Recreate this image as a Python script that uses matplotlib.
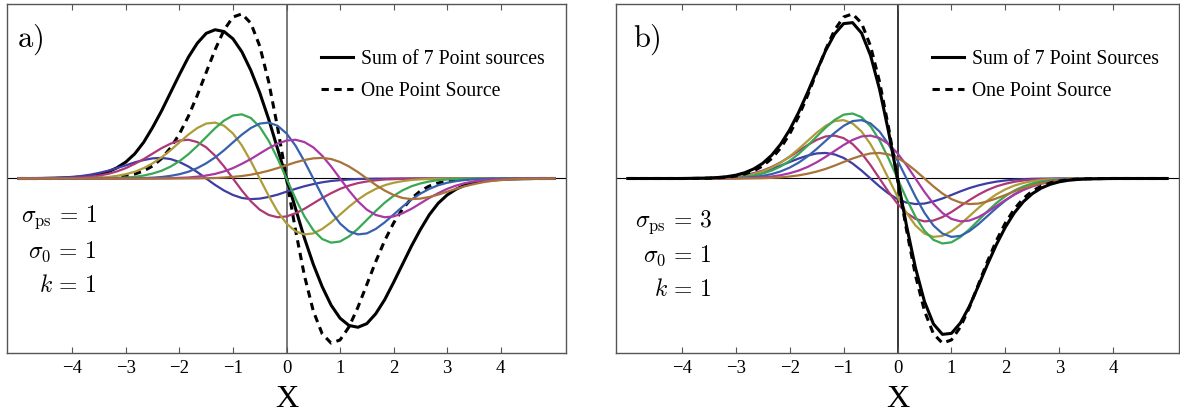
import numpy as np
import matplotlib.pyplot as plt
from matplotlib.lines import Line2D

plt.rcParams['mathtext.fontset'] = 'cm'
plt.rcParams['font.family'] = 'Liberation Serif'

# sample positions of every curve (step 1/6)
x = np.linspace(-5, 5, 61)

# ---- panel a : sigma_ps = 1 ----
sum_a = [0, 0, 0, .001, .002, .003, .005, .009, .015, .025, .040, .065, .100, .150, .220, .310, .410, .520, .630, .735,
         .820, .880, .902, .891, .847, .768, .656, .520, .360, .180,
         0,
         -.180, -.360, -.520, -.656, -.768, -.847, -.891, -.902, -.880, -.820, -.735, -.630, -.520, -.410, -.310, -.220,
         -.150, -.100, -.065, -.040, -.025, -.015, -.009, -.005, -.003, -.002, -.001, 0, 0, 0]
one_src = [0] * 8 + [.001, .002, .004, .008, .015, .027, .046, .076, .121, .185, .270, .377, .504, .643, .781, .900,
                     .979, .998, .942, .803, .587, .310,
                     0,
                     -.310, -.587, -.803, -.942, -.998, -.979, -.900, -.781, -.643, -.504, -.377, -.270, -.185,
                     -.121, -.076, -.046, -.027, -.015, -.008, -.004, -.002, -.001] + [0] * 8

dkblue_a = [0] * 1 + [.001, .001, .002, .003, .006, .010, .015, .023, .034, .047, .063, .080, .098, .112, .122, .125,
                      .118, .100, .073, .039, 0, -.039, -.073, -.100, -.118, -.125, -.122, -.112, -.098, -.080, -.063,
                      -.047, -.034, -.023, -.015, -.010, -.006, -.003, -.002, -.001, -.001] + [0] * 19
magenta_a = [0] * 4 + [.001, .002, .004, .006, .011, .018, .028, .043, .063, .089, .118, .151, .184, .211, .230, .235,
                       .221, .189, .138, .073, 0, -.073, -.138, -.189, -.221, -.235, -.230, -.211, -.184, -.151, -.118,
                       -.089, -.063, -.043, -.028, -.018, -.011, -.006, -.004, -.002, -.001] + [0] * 16
olive_a = [0] * 6 + [.001, .001, .003, .005, .009, .016, .026, .041, .063, .092, .128, .171, .219, .266, .306, .333,
                     .339, .320, .273, .200, .105, 0, -.105, -.200, -.273, -.320, -.339, -.333, -.306, -.266, -.219,
                     -.171, -.128, -.092, -.063, -.041, -.026, -.016, -.009, -.005, -.003, -.001, -.001] + [0] * 12
green_a = [0] * 9 + [.001, .002, .003, .006, .010, .018, .030, .047, .072, .105, .147, .197, .251, .305, .351, .382,
                     .389, .367, .313, .229, .121, 0, -.121, -.229, -.313, -.367, -.389, -.382, -.351, -.305, -.251,
                     -.197, -.147, -.105, -.072, -.047, -.030, -.018, -.010, -.006, -.003, -.002, -.001] + [0] * 9
blue_a = [0] * 12 + [.001, .001, .003, .005, .009, .016, .026, .041, .063, .092, .128, .171, .219, .266, .306, .333,
                     .339, .320, .273, .200, .105, 0, -.105, -.200, -.273, -.320, -.339, -.333, -.306, -.266, -.219,
                     -.171, -.128, -.092, -.063, -.041, -.026, -.016, -.009, -.005, -.003, -.001, -.001] + [0] * 6
purple_a = [0] * 16 + [.001, .002, .004, .006, .011, .018, .028, .043, .063, .089, .118, .151, .184, .211, .230, .235,
                       .221, .189, .138, .073, 0, -.073, -.138, -.189, -.221, -.235, -.230, -.211, -.184, -.151, -.118,
                       -.089, -.063, -.043, -.028, -.018, -.011, -.006, -.004, -.002, -.001] + [0] * 4
brown_a = [0] * 19 + [.001, .001, .002, .003, .006, .010, .015, .023, .034, .047, .063, .080, .098, .112, .122, .125,
                      .118, .100, .073, .039, 0, -.039, -.073, -.100, -.118, -.125, -.122, -.112, -.098, -.080, -.063,
                      -.047, -.034, -.023, -.015, -.010, -.006, -.003, -.002, -.001, -.001] + [0] * 1

# ---- panel b : sigma_ps = 3 ----
sum_b = [0] * 7 + [.001, .002, .003, .006, .011, .020, .035, .058, .092, .141, .208, .295, .401, .522, .651, .775,
                   .876, .939, .945, .882, .746, .542, .285,
                   0,
                   -.285, -.542, -.746, -.882, -.945, -.939, -.876, -.775, -.651, -.522, -.401, -.295, -.208, -.141,
                   -.092, -.058, -.035, -.020, -.011, -.006, -.003, -.002, -.001] + [0] * 7

dkblue_b = [0] * 7 + [.001, .001, .002, .004, .007, .012, .019, .029, .042, .058, .078, .100, .121, .139, .152, .155,
                      .146, .125, .091, .048, 0, -.048, -.091, -.125, -.146, -.155, -.152, -.139, -.121, -.100, -.078,
                      -.058, -.042, -.029, -.019, -.012, -.007, -.004, -.002, -.001, -.001] + [0] * 13
magenta_b = [0] * 7 + [.001, .001, .002, .004, .007, .012, .020, .032, .048, .070, .098, .131, .167, .203, .234, .255,
                       .260, .245, .209, .153, .081, 0, -.081, -.153, -.209, -.245, -.260, -.255, -.234, -.203, -.167,
                       -.131, -.098, -.070, -.048, -.032, -.020, -.012, -.007, -.004, -.002, -.001, -.001] + [0] * 11
olive_b = [0] * 8 + [.001, .001, .003, .005, .009, .016, .027, .043, .066, .096, .134, .179, .228, .277, .319, .348,
                     .354, .334, .285, .208, .110, 0, -.110, -.208, -.285, -.334, -.354, -.348, -.319, -.277, -.228,
                     -.179, -.134, -.096, -.066, -.043, -.027, -.016, -.009, -.005, -.003, -.001, -.001] + [0] * 10
green_b = [0] * 9 + [.001, .002, .003, .006, .011, .018, .030, .048, .073, .107, .149, .199, .254, .308, .355, .387,
                     .394, .372, .317, .232, .122, 0, -.122, -.232, -.317, -.372, -.394, -.387, -.355, -.308, -.254,
                     -.199, -.149, -.107, -.073, -.048, -.030, -.018, -.011, -.006, -.003, -.002, -.001] + [0] * 9
blue_b = [0] * 10 + [.001, .001, .003, .005, .009, .016, .027, .043, .066, .096, .134, .179, .228, .277, .319, .348,
                     .354, .334, .285, .208, .110, 0, -.110, -.208, -.285, -.334, -.354, -.348, -.319, -.277, -.228,
                     -.179, -.134, -.096, -.066, -.043, -.027, -.016, -.009, -.005, -.003, -.001, -.001] + [0] * 8
purple_b = [0] * 11 + [.001, .001, .002, .004, .007, .012, .020, .032, .048, .070, .098, .131, .167, .203, .234, .255,
                       .260, .245, .209, .153, .081, 0, -.081, -.153, -.209, -.245, -.260, -.255, -.234, -.203, -.167,
                       -.131, -.098, -.070, -.048, -.032, -.020, -.012, -.007, -.004, -.002, -.001, -.001] + [0] * 7
brown_b = [0] * 13 + [.001, .001, .002, .004, .007, .012, .019, .029, .042, .058, .078, .100, .121, .139, .152, .155,
                      .146, .125, .091, .048, 0, -.048, -.091, -.125, -.146, -.155, -.152, -.139, -.121, -.100, -.078,
                      -.058, -.042, -.029, -.019, -.012, -.007, -.004, -.002, -.001, -.001] + [0] * 7

src_a = [dkblue_a, magenta_a, olive_a, green_a, blue_a, purple_a, brown_a]
src_b = [dkblue_b, magenta_b, olive_b, green_b, blue_b, purple_b, brown_b]

colors = [(0.24, 0.24, 0.64), (0.68, 0.22, 0.46), (0.68, 0.61, 0.22), (0.22, 0.66, 0.33),
          (0.22, 0.38, 0.68), (0.66, 0.22, 0.64), (0.66, 0.45, 0.22)]

panels = [
    ('a', sum_a, src_a, '1', 'Sum of 7 Point sources', False),
    ('b', sum_b, src_b, '3', 'Sum of 7 Point Sources', True),
]
lefts = [7 / 1180, 616 / 1180]
widths = [559 / 1180, 563 / 1180]
tag_x = [0.018, 0.030]
par_x = [0.161, 0.1705]
par_y = [[0.390, 0.289, 0.192], [0.375, 0.278, 0.181]]
dash = (0, (2.4, 1.8))

fig = plt.figure(figsize=(11.8, 4.12), dpi=100)

for i, (tag, s, srcs, sps, lab, black_on_top) in enumerate(panels):
    ax = fig.add_axes([lefts[i], 1 - 353 / 412, widths[i], 349 / 412])
    ax.axhline(0, color='k', lw=0.8, zorder=1)
    ax.axvline(0, color='#555555' if i == 0 else 'k', lw=1.1, zorder=1)

    z_src = 2 if black_on_top else 4
    z_blk = 4 if black_on_top else 2
    for k, ys in enumerate(srcs):
        ax.plot(x, ys, color=colors[k], lw=1.6, zorder=z_src)
    ax.plot(x, s, color='k', lw=2.2, zorder=z_blk)
    ax.plot(x, one_src, color='k', lw=2.2, ls=dash, zorder=z_blk + 0.5)

    ax.set_xlim(-5.22, 5.22)
    ax.set_ylim(-1.058, 1.058)
    ax.set_xticks([-4, -3, -2, -1, 0, 1, 2, 3, 4])
    ax.set_xticklabels(['\u22124', '\u22123', '\u22122', '\u22121', '0', '1', '2', '3', '4'])
    ax.set_yticks([])
    ax.tick_params(axis='x', direction='in', top=True, length=4, width=0.8,
                   color='#555555', labelsize=13.5, pad=5)
    for sp in ax.spines.values():
        sp.set_color('#555555')
        sp.set_linewidth(1.0)

    # axis title sits just under the "0" tick label
    ax.text(0.5, -0.1547, 'X', transform=ax.transAxes, fontsize=23,
            ha='center', va='baseline')

    ax.text(tag_x[i], 0.946, r'$\mathrm{%s)}$' % tag, transform=ax.transAxes,
            fontsize=22, va='top', ha='left')

    ax.text(par_x[i], par_y[i][0], r'$\sigma_{\mathrm{ps}} \,=\, %s$' % sps, transform=ax.transAxes,
            fontsize=17, ha='right', va='center')
    ax.text(par_x[i], par_y[i][1], r'$\sigma_0 \,=\, 1$', transform=ax.transAxes,
            fontsize=17, ha='right', va='center')
    ax.text(par_x[i], par_y[i][2], r'$k \,=\, 1$', transform=ax.transAxes,
            fontsize=17, ha='right', va='center')

    handles = [Line2D([], [], color='k', lw=2.2),
               Line2D([], [], color='k', lw=2.2, ls=dash)]
    ax.legend(handles, [lab, 'One Point Source'], loc='upper left',
              bbox_to_anchor=(0.561, 0.868), frameon=False, fontsize=14.2,
              handlelength=1.62, handletextpad=0.42, labelspacing=0.67,
              borderpad=0, borderaxespad=0)

fig.savefig('out.png', dpi=100)
